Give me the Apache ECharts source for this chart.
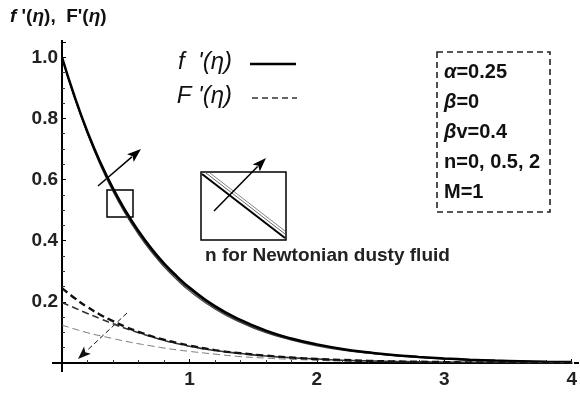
<!DOCTYPE html>
<html lang="en">
<head>
    <meta charset="UTF-8">
    <title>f'(eta), F'(eta) profiles</title>
    <script src="https://cdn.jsdelivr.net/npm/echarts@6/dist/echarts.min.js"></script>
    <style>
        html, body { margin: 0; padding: 0; background: #fff; }
        #chart { width: 580px; height: 394px; }
    </style>
</head>
<body>
    <div id="chart"></div>

    <script>
        // eta grid
        const eta = [0, 0.1, 0.2, 0.3, 0.4, 0.5, 0.6, 0.7, 0.8, 0.9, 1.0,
                     1.2, 1.4, 1.6, 1.8, 2.0, 2.2, 2.4, 2.6, 2.8, 3.0, 3.2, 3.4, 3.6, 3.8, 4.0];

        // f'(eta), fluid phase, n = 0, 0.5, 2
        const fPrimeA = [1.0, 0.870, 0.756, 0.657, 0.571, 0.497, 0.432, 0.375, 0.326, 0.284, 0.247,
                         0.186, 0.141, 0.106, 0.080, 0.061, 0.046, 0.035, 0.026, 0.020, 0.015, 0.011, 0.008, 0.006, 0.004, 0.003];
        const fPrimeB = [1.0, 0.868, 0.752, 0.652, 0.566, 0.491, 0.426, 0.369, 0.320, 0.278, 0.241,
                         0.181, 0.136, 0.102, 0.077, 0.058, 0.044, 0.033, 0.025, 0.019, 0.014, 0.010, 0.008, 0.006, 0.004, 0.003];
        const fPrimeC = [1.0, 0.866, 0.749, 0.648, 0.561, 0.486, 0.421, 0.364, 0.315, 0.273, 0.236,
                         0.177, 0.133, 0.099, 0.075, 0.056, 0.042, 0.032, 0.024, 0.018, 0.013, 0.010, 0.007, 0.005, 0.004, 0.003];

        // F'(eta), dust phase
        const FPrimeA = [0.245, 0.212, 0.183, 0.158, 0.137, 0.118, 0.102, 0.088, 0.076, 0.066, 0.057,
                         0.042, 0.032, 0.024, 0.018, 0.013, 0.010, 0.007, 0.005, 0.004, 0.003, 0.002, 0.002, 0.001, 0.001, 0.001];
        const FPrimeB = [0.198, 0.180, 0.162, 0.145, 0.128, 0.113, 0.099, 0.086, 0.074, 0.064, 0.055,
                         0.041, 0.031, 0.023, 0.017, 0.013, 0.009, 0.007, 0.005, 0.004, 0.003, 0.002, 0.002, 0.001, 0.001, 0.001];
        const FPrimeC = [0.124, 0.111, 0.099, 0.089, 0.080, 0.071, 0.063, 0.056, 0.049, 0.043, 0.038,
                         0.029, 0.021, 0.016, 0.012, 0.009, 0.006, 0.005, 0.004, 0.003, 0.002, 0.002, 0.001, 0.001, 0.001, 0.001];

        const paramLines = ['{i|α}=0.25', '{i|β}=0', '{i|β}v=0.4', 'n=0, 0.5, 2', 'M=1'];

        const pairs = vals => eta.map((x, i) => [x, vals[i]]);

        const font = 'Liberation Sans, Arial, sans-serif';

        function curve(name, vals, width, color, dashed) {
            return {
                name: name,
                type: 'line',
                data: pairs(vals),
                smooth: true,
                showSymbol: false,
                silent: true,
                lineStyle: { width: width, color: color, type: dashed ? [7, 4] : 'solid' }
            };
        }

        // arrow: line + filled head
        function arrow(x1, y1, x2, y2, opts) {
            const dx = x2 - x1, dy = y2 - y1;
            const len = Math.sqrt(dx * dx + dy * dy);
            const ux = dx / len, uy = dy / len;
            const hl = opts.head || 14, hw = opts.hw || 5;
            const bx = x2 - ux * hl, by = y2 - uy * hl;
            return [
                {
                    type: 'line', silent: true,
                    shape: { x1: x1, y1: y1, x2: bx + ux * 2, y2: by + uy * 2 },
                    style: { stroke: opts.color || '#000', lineWidth: opts.width || 1.5, lineDash: opts.dash || null }
                },
                {
                    type: 'polygon', silent: true,
                    shape: { points: [[x2, y2], [bx - uy * hw, by + ux * hw], [bx + ux * 3, by + uy * 3], [bx + uy * hw, by - ux * hw]] },
                    style: { fill: opts.color || '#000' }
                }
            ];
        }

        const chart = echarts.init(document.getElementById('chart'));

        const graphics = [
            // axis title
            {
                type: 'text', left: 10, top: 7,
                style: {
                    text: '{i|f} \'({i|η}),  F\'({i|η})',
                    font: 'bold 19px ' + font, fill: '#111',
                    rich: { i: { fontStyle: 'italic', fontWeight: 'bold', fontSize: 19, fontFamily: font } }
                }
            },
            // axis line extensions
            { type: 'line', shape: { x1: 62, y1: 363, x2: 62, y2: 372 }, style: { stroke: '#000', lineWidth: 2 } },
            { type: 'line', shape: { x1: 52, y1: 363, x2: 62, y2: 363 }, style: { stroke: '#000', lineWidth: 2 } },
            { type: 'line', shape: { x1: 62, y1: 40, x2: 62, y2: 44 }, style: { stroke: '#000', lineWidth: 2 } },
            { type: 'line', shape: { x1: 574, y1: 363, x2: 579, y2: 363 }, style: { stroke: '#000', lineWidth: 2 } },
            // legend
            {
                type: 'text', right: 580 - 232, top: 50,
                style: { text: 'f  \'(η)', font: 'italic 24px ' + font, fill: '#111', align: 'right' }
            },
            { type: 'line', shape: { x1: 250, y1: 64, x2: 296, y2: 64 }, style: { stroke: '#000', lineWidth: 2.5 } },
            {
                type: 'text', right: 580 - 232, top: 84,
                style: { text: 'F \'(η)', font: 'italic 24px ' + font, fill: '#111', align: 'right' }
            },
            { type: 'line', shape: { x1: 252, y1: 98, x2: 297, y2: 98 }, style: { stroke: '#333', lineWidth: 1.5, lineDash: [6, 4] } },
            // parameter box
            {
                type: 'rect', shape: { x: 437, y: 52, width: 113, height: 160 },
                style: { fill: 'none', stroke: '#222', lineWidth: 1.6, lineDash: [6, 4] }
            },
            // small box on curves
            {
                type: 'rect', shape: { x: 107, y: 190, width: 26, height: 27 },
                style: { fill: 'none', stroke: '#000', lineWidth: 1.5 }
            },
            // inset
            {
                type: 'rect', shape: { x: 201, y: 172, width: 85, height: 68 },
                style: { fill: 'none', stroke: '#000', lineWidth: 1.5 }
            },
            { type: 'line', shape: { x1: 202, y1: 174, x2: 285, y2: 238 }, style: { stroke: '#000', lineWidth: 2 } },
            { type: 'line', shape: { x1: 206, y1: 173, x2: 285, y2: 234 }, style: { stroke: '#555', lineWidth: 0.9 } },
            { type: 'line', shape: { x1: 210, y1: 173, x2: 285, y2: 231 }, style: { stroke: '#777', lineWidth: 0.9 } },
            {
                type: 'text', left: 205, top: 246,
                style: { text: 'n for Newtonian dusty fluid', font: 'bold 19px ' + font, fill: '#222' }
            }
        ];

        paramLines.forEach((t, i) => {
            graphics.push({
                type: 'text', left: 444, top: 62 + i * 30,
                style: {
                    text: t, font: 'bold 20px ' + font, fill: '#111',
                    rich: { i: { fontStyle: 'italic', fontWeight: 'bold', fontSize: 20, fontFamily: font } }
                }
            });
        });

        graphics.push(...arrow(98, 186, 141, 149, { width: 1.5 }));
        graphics.push(...arrow(214, 211, 266, 158, { width: 1.5 }));
        graphics.push(...arrow(127, 313, 78, 359, { width: 1, dash: [5, 3], color: '#111', head: 13 }));

        const option = {
            animation: false,
            grid: { left: 62, right: 6, top: 42, bottom: 31 },
            xAxis: {
                type: 'value', min: 0, max: 4, interval: 1,
                axisLine: { onZero: false, lineStyle: { color: '#000', width: 2 } },
                axisTick: { inside: true, length: 4, lineStyle: { color: '#000' } },
                minorTick: { show: true, splitNumber: 5, length: 3, lineStyle: { color: '#333' } },
                splitLine: { show: false },
                axisLabel: {
                    color: '#222', fontWeight: 'bold', fontSize: 19, fontFamily: font, margin: 7,
                    formatter: v => (v === 0 ? '' : String(v))
                }
            },
            yAxis: {
                type: 'value', min: 0, max: 1.05, interval: 0.2,
                axisLine: { show: true, onZero: false, lineStyle: { color: '#000', width: 2 } },
                axisTick: { show: true, inside: true, length: 4, lineStyle: { color: '#000' } },
                minorTick: { show: true, splitNumber: 4, length: 3, lineStyle: { color: '#333' } },
                splitLine: { show: false },
                axisLabel: {
                    color: '#222', fontWeight: 'bold', fontSize: 19, fontFamily: font, margin: 4,
                    formatter: v => {
                        const r = Math.round(v * 10) / 10;
                        if (v < 0.1 || Math.abs(v - r) > 1e-6 || Math.round(r * 10) % 2 !== 0) return '';
                        return r.toFixed(1);
                    }
                }
            },
            series: [
                curve('f1', fPrimeC, 1.2, '#444', false),
                curve('f2', fPrimeB, 1.2, '#333', false),
                curve('f3', fPrimeA, 2.5, '#000', false),
                curve('F3', FPrimeC, 1, '#777', true),
                curve('F2', FPrimeB, 1.6, '#333', true),
                curve('F1', FPrimeA, 2.4, '#111', true)
            ],
            graphic: graphics
        };

        chart.setOption(option);
    </script>
</body>
</html>
